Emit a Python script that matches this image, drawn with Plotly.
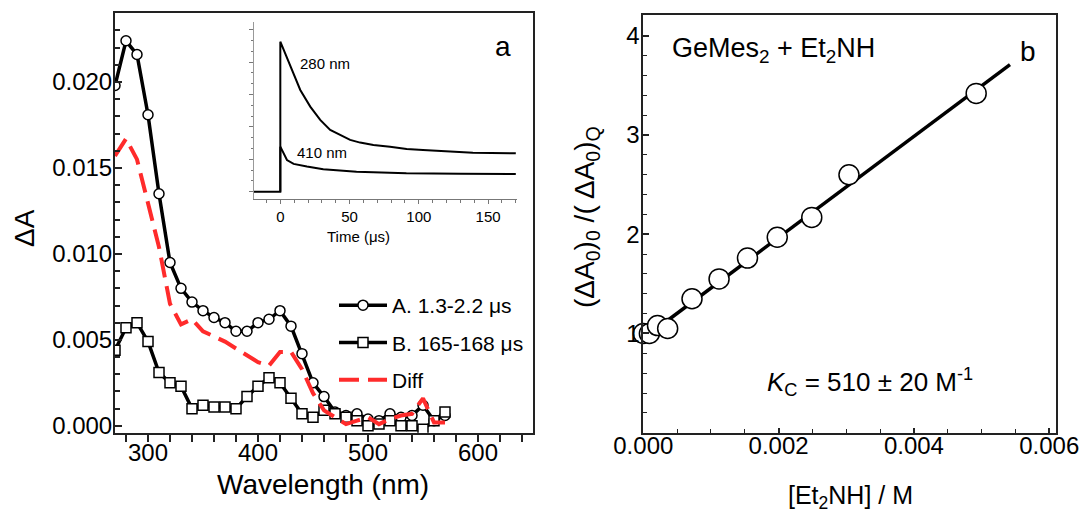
import plotly.graph_objects as go

# ---------------- data ----------------
wavelength = [270, 280, 290, 300, 310, 320, 330, 340, 350, 360, 370, 380, 390, 400, 410,
              420, 430, 440, 450, 460, 470, 480, 490, 500, 510, 520, 530, 540, 550, 560, 570]
series_a = [0.0198, 0.0224, 0.0216, 0.0181, 0.0135, 0.0095, 0.0080, 0.0072, 0.0067, 0.0063,
            0.0060, 0.0055, 0.0055, 0.0060, 0.0062, 0.0067, 0.0058, 0.0042, 0.0025, 0.0017,
            0.0008, 0.0006, 0.0007, 0.0004, 0.0003, 0.0007, 0.0005, 0.0006, 0.0012, 0.0003, 0.0006]
series_b = [0.0044, 0.0057, 0.0060, 0.0049, 0.0031, 0.0025, 0.0023, 0.0010, 0.0012, 0.0011,
            0.0011, 0.0010, 0.0017, 0.0023, 0.0028, 0.0025, 0.0016, 0.0007, 0.0005, 0.0009,
            0.0007, 0.0005, 0.0003, 0.0000, 0.0001, 0.0003, 0.0000, 0.0000, -0.0002, 0.0003, 0.0008]
series_diff = [0.0157, 0.0167, 0.0155, 0.0129, 0.0104, 0.0071, 0.0059, 0.0062, 0.0055, 0.0052,
               0.0049, 0.0045, 0.0041, 0.0037, 0.0035, 0.0043, 0.0043, 0.0033, 0.0019, 0.0009,
               0.0005, 0.0001, 0.0003, 0.0005, 0.0001, 0.0004, 0.0006, 0.0007, 0.0016, 0.0002, 0.0002]

# inset kinetic traces (arbitrary units)
t_280 = [-19, -10, 0, 0, 7.2, 14.4, 21.6, 28.8, 36, 43.2, 50.4, 57.6, 67.2, 79.2, 91.2, 103, 115, 139, 170]
a_280 = [0.0, 0.0, 0.0, 1.0, 0.833, 0.678, 0.567, 0.478, 0.411, 0.378, 0.345, 0.327, 0.311, 0.300,
         0.285, 0.278, 0.271, 0.260, 0.256]
t_410 = [0, 0, 4.8, 9.6, 19.2, 31, 55, 91, 130, 170]
a_410 = [0.0, 0.30, 0.211, 0.185, 0.167, 0.149, 0.133, 0.122, 0.120, 0.118]

# quenching plot
conc = [0.0, 0.00009, 0.00021, 0.00036, 0.00072, 0.00112, 0.00154, 0.00198, 0.00249, 0.00304, 0.00492]
ratio = [1.00, 1.00, 1.08, 1.05, 1.35, 1.55, 1.76, 1.97, 2.17, 2.60, 3.42]
fit_conc = [0.0002, 0.00542]
fit_ratio = [1.05, 3.71]

FONT = "Liberation Sans, Arial, sans-serif"
W, H = 1086, 514

def px(x):
    return x / W

def py(y):
    return 1 - y / H

fig = go.Figure()

# main spectra
fig.add_trace(go.Scatter(x=wavelength, y=series_a, mode="lines+markers", name="A. 1.3-2.2 μs",
                         line=dict(color="black", width=3.5),
                         marker=dict(symbol="circle", size=10, color="white",
                                     line=dict(color="black", width=1.5)),
                         legendgroup="a", xaxis="x", yaxis="y"))
fig.add_trace(go.Scatter(x=wavelength, y=series_b, mode="lines+markers", name="B. 165-168 μs",
                         line=dict(color="black", width=3.5),
                         marker=dict(symbol="square", size=10, color="white",
                                     line=dict(color="black", width=1.5)),
                         legendgroup="b", xaxis="x", yaxis="y"))
fig.add_trace(go.Scatter(x=wavelength, y=series_diff, mode="lines", name="Diff",
                         line=dict(color="#ff2b2b", width=4, dash="20px,9px"),
                         legendgroup="c", xaxis="x", yaxis="y"))

# inset
fig.add_trace(go.Scatter(x=t_280, y=a_280, mode="lines", showlegend=False,
                         line=dict(color="black", width=2), xaxis="x3", yaxis="y3"))
fig.add_trace(go.Scatter(x=t_410, y=a_410, mode="lines", showlegend=False,
                         line=dict(color="black", width=2), xaxis="x3", yaxis="y3"))

# right panel
fig.add_trace(go.Scatter(x=fit_conc, y=fit_ratio, mode="lines", showlegend=False,
                         line=dict(color="black", width=3.5), xaxis="x2", yaxis="y2"))
fig.add_trace(go.Scatter(x=conc, y=ratio, mode="markers", showlegend=False, cliponaxis=False,
                         marker=dict(symbol="circle", size=20, color="white",
                                     line=dict(color="black", width=1.5)),
                         xaxis="x2", yaxis="y2"))

axcol = "#222222"
tickfont = dict(family=FONT, size=24, color="black")

fig.update_layout(
    width=W, height=H, margin=dict(l=0, r=0, t=0, b=0, autoexpand=False),
    paper_bgcolor="white", plot_bgcolor="white",
    font=dict(family=FONT, color="black"),
    showlegend=True,
    legend=dict(x=px(334), y=py(285), xanchor="left", yanchor="top",
                font=dict(family=FONT, size=21, color="black"),
                bgcolor="rgba(0,0,0,0)", tracegroupgap=7, itemwidth=48),
    xaxis=dict(domain=[px(115), px(533)], range=[270, 650], anchor="y", automargin=False,
               tickvals=[300, 400, 500, 600], ticks="outside", ticklen=7, tickwidth=1.5,
               ticklabelstandoff=-10,
               tickcolor=axcol, tickfont=tickfont, showline=True, linecolor=axcol, linewidth=2,
               mirror=True, showgrid=False, zeroline=False,
               minor=dict(dtick=20, tick0=280, ticks="outside", ticklen=7, tickwidth=1.5, tickcolor=axcol)),
    yaxis=dict(domain=[py(432.7), py(13.3)], range=[-0.0004, 0.024], anchor="x", automargin=False,
               tickvals=[0.0, 0.005, 0.010, 0.015, 0.020], tickformat=".3f",
               ticks="inside", ticklen=7, tickwidth=1.5, tickcolor=axcol, tickfont=tickfont,
               ticklabelstandoff=-4,
               showline=True, linecolor=axcol, linewidth=2, mirror=True, showgrid=False,
               zeroline=False,
               minor=dict(dtick=0.001, tick0=0, ticks="inside", ticklen=5, tickwidth=1.5, tickcolor=axcol)),
    xaxis2=dict(domain=[px(643.3), px(1056)], range=[0, 0.0061], anchor="y2", automargin=False,
                tickvals=[0.0, 0.002, 0.004, 0.006], tickformat=".3f",
                ticks="inside", ticklen=5, tickwidth=1.5, tickcolor=axcol, tickfont=tickfont,
                ticklabelstandoff=-10,
                showline=True, linecolor=axcol, linewidth=2, mirror=True, showgrid=False,
                zeroline=False,
                minor=dict(dtick=0.0005, tick0=0, ticks="inside", ticklen=4, tickwidth=1.2, tickcolor=axcol)),
    yaxis2=dict(domain=[py(432.7), py(15)], range=[0, 4.21], anchor="x2", automargin=False,
                tickvals=[1, 2, 3, 4], ticks="inside", ticklen=6, tickwidth=1.5, tickcolor=axcol,
                ticklabelstandoff=-3,
                tickfont=tickfont, showline=True, linecolor=axcol, linewidth=2, mirror=True,
                showgrid=False, zeroline=False,
                minor=dict(dtick=0.2, tick0=0, ticks="inside", ticklen=4, tickwidth=1.2, tickcolor=axcol)),
    xaxis3=dict(domain=[px(254), px(516.5)], range=[-19, 170.5], anchor="y3", automargin=False,
                tickvals=[0, 50, 100, 150], ticks="outside", ticklen=4, tickwidth=1,
                tickcolor="#777777", tickfont=dict(family=FONT, size=15, color="black"),
                showline=True, linecolor="#777777", linewidth=1, showgrid=False, zeroline=False,
                minor=dict(dtick=10, ticks="outside", ticklen=3, tickwidth=1, tickcolor="#777777")),
    yaxis3=dict(domain=[py(199), py(21.7)], range=[-0.049, 1.133], anchor="x3", automargin=False,
                showticklabels=False, tick0=0, dtick=0.216, ticks="outside", ticklen=4, tickwidth=1,
                tickcolor="#777777", showline=True, linecolor="#999999", linewidth=1,
                showgrid=False, zeroline=False,
                minor=dict(dtick=0.072, ticks="outside", ticklen=2, tickwidth=1, tickcolor="#777777")),
)

ann = [
    dict(x=px(503), y=py(46.7), text="a", font=dict(size=28)),
    dict(x=px(1028.3), y=py(51.7), text="b", font=dict(size=28)),
    dict(x=px(325), y=py(63), text="280 nm", font=dict(size=15)),
    dict(x=px(321.7), y=py(152.7), text="410 nm", font=dict(size=15)),
    dict(x=px(358), y=py(236.7), text="Time (μs)", font=dict(size=15)),
    dict(x=px(323), y=py(484), text="Wavelength (nm)", font=dict(size=28)),
    dict(x=px(24), y=py(228), text="ΔA", textangle=-90, font=dict(size=28)),
    dict(x=px(670), y=py(50), text="GeMes<sub>2</sub> + Et<sub>2</sub>NH", xanchor="left",
         font=dict(size=27)),
    dict(x=px(765), y=py(381.7), text="<i>K</i><sub>C</sub> = 510 ± 20 M<sup>-1</sup>",
         xanchor="left", font=dict(size=26)),
    dict(x=px(586), y=py(217), text="(ΔA<sub>0</sub>)<sub>0</sub> /( ΔA<sub>0</sub>)<sub>Q</sub>",
         textangle=-90, font=dict(size=28)),
    dict(x=px(850), y=py(496.7), text="[Et<sub>2</sub>NH] / M", font=dict(size=25)),
]
for a in ann:
    a.setdefault("xanchor", "center")
    a["xref"] = "paper"
    a["yref"] = "paper"
    a["yanchor"] = "middle"
    a["showarrow"] = False
    a["font"] = dict(family=FONT, color="black", **a["font"])
    fig.add_annotation(**a)

fig.write_html("out.html")
